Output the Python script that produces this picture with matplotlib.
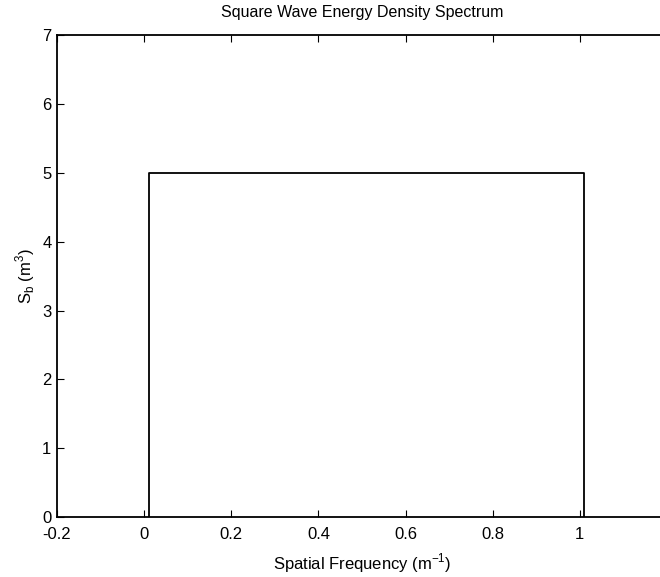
import matplotlib
matplotlib.use('Agg')
import matplotlib.pyplot as plt

# energy density spectrum of the square wave (flat band)
freq = [0.01, 0.01, 1.01, 1.01]
sb = [0, 5, 5, 0]
x_ticks = [-0.2, 0, 0.2, 0.4, 0.6, 0.8, 1]
x_tick_labels = ['-0.2', '0', '0.2', '0.4', '0.6', '0.8', '1']
y_ticks = [0, 1, 2, 3, 4, 5, 6, 7]

plt.rcParams['font.family'] = ['Liberation Sans', 'DejaVu Sans']

fig = plt.figure(figsize=(6.6, 5.77), dpi=100)
ax = fig.add_axes([0.0864, 0.104, 0.924, 0.835])

ax.plot(freq, sb, color='black', linewidth=1.3)

ax.set_xlim(-0.2, 1.2)
ax.set_ylim(0, 7)
ax.set_xticks(x_ticks)
ax.set_xticklabels(x_tick_labels)
ax.set_yticks(y_ticks)
ax.tick_params(direction='in', length=5, labelsize=12, top=True, right=True)
ax.tick_params(axis='x', pad=7)
ax.tick_params(axis='y', pad=4)
for s in ax.spines.values():
    s.set_linewidth(1.3)

ax.set_title('Square Wave Energy Density Spectrum', fontsize=11.5, pad=13)
ax.set_xlabel('Spatial Frequency (m$^{\\mathregular{-1}}$)', fontsize=12, labelpad=7)
ax.set_ylabel('S$_{\\mathregular{b}}$ (m$^{\\mathregular{3}}$)', fontsize=12, labelpad=4)

fig.savefig('out.png', dpi=100)
